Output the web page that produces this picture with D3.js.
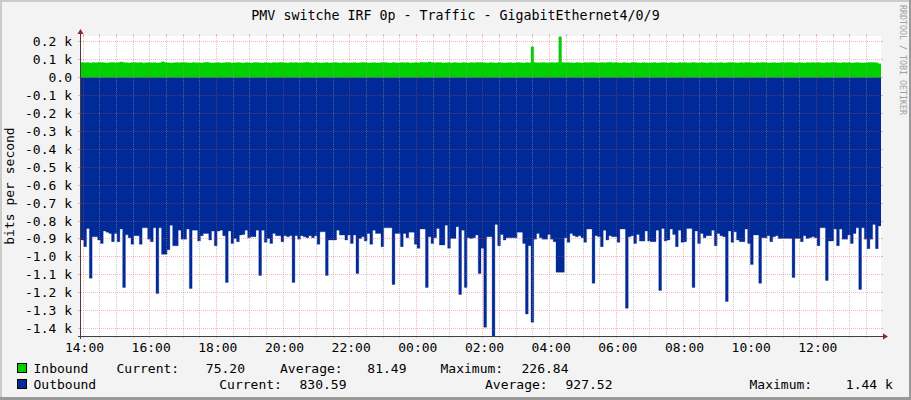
<!DOCTYPE html>
<html>
<head>
<meta charset="utf-8">
<script src="https://cdnjs.cloudflare.com/ajax/libs/d3/7.8.5/d3.min.js"></script>
<style>
    html, body { margin: 0; padding: 0; background: #f3f3f3; }
    svg { display: block; }
    text { font-family: "DejaVu Sans Mono", monospace; fill: #000; }
</style>
</head>
<body>
<svg id="chart" width="911" height="400"></svg>
<script>
// Data: one sample every 5 minutes, 288 samples over 24h
const title = 'PMV switche IRF 0p - Traffic - GigabitEthernet4/0/9';
const yTitle = 'bits per second';
const watermark = 'RRDTOOL / TOBI OETIKER';

const inbound = [
    82,81,83,80,82,81,84,82,81,80,82,83,81,82,86,82,81,80,83,82,81,82,80,81,
    83,81,82,80,81,87,82,81,80,81,82,81,83,82,81,80,82,81,81,80,82,84,81,80,
    81,82,80,81,83,82,80,81,82,81,80,82,81,80,83,82,81,80,82,81,80,82,81,83,
    82,81,80,82,81,83,80,81,82,84,81,80,82,81,80,81,82,80,81,83,81,80,82,81,
    80,81,82,80,81,83,82,80,81,82,80,81,82,83,81,80,82,81,80,82,81,83,80,81,
    82,81,84,82,83,86,82,81,83,82,80,81,82,80,83,81,80,82,81,80,82,81,82,83,
    82,81,80,82,81,80,82,81,80,81,82,80,81,82,81,80,82,81,170,82,81,81,82,81,
    81,82,81,82,226.84,83,81,82,81,80,82,81,80,82,81,83,82,81,80,82,81,82,84,81,
    82,81,80,82,81,80,82,83,81,80,82,81,80,81,82,80,81,82,81,80,82,81,80,82,
    81,82,80,81,83,81,80,82,81,80,82,81,80,81,82,80,81,83,82,81,80,82,81,82,
    82,81,80,82,81,83,82,80,81,82,80,81,82,81,83,82,81,80,82,81,80,82,81,82,
    81,82,81,80,82,81,83,82,81,80,82,81,82,80,81,82,81,80,81,82,83,82,81,75.2
];

const outbound = [
    -909,-946,-844,-1122,-891,-891,-909,-928,-859,-865,-872,-918,-872,-918,-848,-1174,-880,-896,-933,-885,-885,-933,-841,-841,
    -904,-918,-841,-1207,-841,-989,-989,-963,-826,-941,-941,-854,-904,-904,-848,-1180,-854,-854,-915,-885,-872,-872,-909,-859,
    -941,-859,-854,-885,-1146,-859,-928,-900,-918,-881,-878,-854,-896,-891,-891,-854,-1107,-854,-922,-900,-928,-872,-885,-885,
    -918,-885,-891,-885,-1146,-885,-904,-885,-891,-896,-885,-896,-885,-933,-863,-863,-1107,-909,-909,-909,-854,-881,-881,-909,
    -881,-928,-881,-1096,-900,-891,-915,-872,-933,-854,-872,-872,-946,-841,-841,-841,-1157,-872,-872,-946,-872,-896,-865,-865,
    -933,-955,-848,-848,-1174,-891,-928,-896,-844,-937,-937,-826,-955,-900,-900,-835,-1213,-854,-1174,-896,-900,-896,-881,-1096,
    -955,-1396,-891,-890,-1445,-822,-941,-878,-909,-896,-896,-896,-896,-865,-865,-928,-1322,-941,-1368,-904,-872,-896,-904,-904,
    -878,-904,-918,-1089,-1089,-1089,-896,-922,-872,-885,-891,-885,-896,-922,-848,-848,-1151,-885,-891,-946,-854,-909,-885,-891,
    -891,-922,-848,-848,-1290,-891,-885,-928,-878,-915,-915,-859,-915,-918,-918,-854,-1191,-844,-915,-909,-848,-878,-946,-854,
    -922,-918,-844,-844,-1174,-859,-928,-872,-896,-885,-885,-854,-941,-872,-885,-891,-1252,-859,-922,-863,-909,-918,-918,-848,
    -928,-1046,-881,-881,-1151,-896,-896,-885,-918,-891,-885,-900,-900,-900,-900,-900,-1118,-900,-900,-918,-885,-900,-896,-891,
    -896,-941,-841,-841,-1135,-915,-915,-848,-941,-848,-904,-904,-881,-928,-872,-841,-1185,-841,-904,-957,-904,-822,-957,-830.59
];

const yTicks = [200, 100, 0, -100, -200, -300, -400, -500, -600, -700, -800, -900, -1000, -1100, -1200, -1300, -1400];

const legendNames = ['Inbound', 'Outbound'];
const legendColors = ['#00cf00', '#002a97'];
const statCurrent = ['75.20', '830.59'];
const statAverage = ['81.49', '927.52'];
const statMaximum = ['226.84', '1.44 k'];

const chart = {
    svg: d3.select('#chart'),
    dims: { width: 911, height: 400, left: 81, right: 881, top: 36, bottom: 336 },
    x: null,
    y: null,

    init: function() {
        const d = chart.dims;
        const start = new Date(2024, 0, 1, 13, 56, 24);
        const end = d3.timeHour.offset(start, 24);

        chart.x = d3.scaleTime().domain([start, end]).range([d.left, d.right]);
        chart.y = d3.scaleLinear().domain([-1445, 230.7]).range([d.bottom, d.top]);

        // Samples, with an extra point so the last step reaches the edge
        const samples = inbound.map((v, i) => ({
            t: d3.timeMinute.offset(start, i * 5),
            inb: v,
            out: outbound[i]
        }));
        samples.push({ t: end, inb: inbound[inbound.length - 1], out: outbound[outbound.length - 1] });

        chart.drawFrame();
        chart.drawAreas(samples);
        chart.drawGrid(start, end);
        chart.drawAxes();
        chart.drawTexts();
        chart.drawLegend();
    },

    drawFrame: function() {
        const d = chart.dims;
        chart.svg.append('rect')
            .attr('width', d.width).attr('height', d.height).attr('fill', '#f3f3f3');
        // shaded border
        chart.svg.append('rect').attr('x', 0).attr('y', 0).attr('width', d.width).attr('height', 2).attr('fill', '#cbcbcb');
        chart.svg.append('rect').attr('x', 0).attr('y', 0).attr('width', 2).attr('height', d.height).attr('fill', '#cbcbcb');
        chart.svg.append('rect').attr('x', d.width - 2).attr('y', 0).attr('width', 2).attr('height', d.height).attr('fill', '#999999');
        chart.svg.append('rect').attr('x', 0).attr('y', d.height - 3).attr('width', d.width).attr('height', 3).attr('fill', '#999999');
        // canvas
        chart.svg.append('rect')
            .attr('x', d.left).attr('y', d.top)
            .attr('width', d.right - d.left).attr('height', d.bottom - d.top)
            .attr('fill', '#ffffff');

        chart.svg.append('clipPath').attr('id', 'plot-clip')
            .append('rect')
            .attr('x', d.left).attr('y', d.top)
            .attr('width', d.right - d.left).attr('height', d.bottom - d.top);
    },

    drawAreas: function(samples) {
        const outArea = d3.area()
            .curve(d3.curveStepAfter)
            .x(s => chart.x(s.t))
            .y0(chart.y(0))
            .y1(s => chart.y(s.out));

        const inArea = d3.area()
            .curve(d3.curveStepAfter)
            .x(s => chart.x(s.t))
            .y0(chart.y(0))
            .y1(s => chart.y(s.inb));

        const g = chart.svg.append('g').attr('clip-path', 'url(#plot-clip)');
        g.append('path').datum(samples).attr('d', outArea).attr('fill', legendColors[1])
            .attr('stroke', legendColors[1]).attr('stroke-width', 0.6).attr('stroke-opacity', 0.5);
        g.append('path').datum(samples).attr('d', inArea).attr('fill', legendColors[0])
            .attr('stroke', legendColors[0]).attr('stroke-width', 0.6).attr('stroke-opacity', 0.5);
    },

    drawGrid: function(start, end) {
        const d = chart.dims;
        const minor = 'rgba(150,150,150,0.5)';
        const major = 'rgba(225,70,70,0.38)';
        const g = chart.svg.append('g');

        // minor vertical lines every 30 minutes (skipping the 2-hour marks)
        const halfHours = d3.timeMinute.every(30).range(start, end)
            .filter(t => t.getMinutes() === 30 || t.getHours() % 2 === 1);
        halfHours.forEach(t => {
            const px = Math.floor(chart.x(t)) + 0.5;
            g.append('line').attr('x1', px).attr('x2', px).attr('y1', d.top).attr('y2', d.bottom)
                .attr('stroke', minor).attr('stroke-dasharray', '1,1');
            g.append('line').attr('x1', px).attr('x2', px).attr('y1', d.bottom).attr('y2', d.bottom + 2)
                .attr('stroke', minor);
            g.append('line').attr('x1', px).attr('x2', px).attr('y1', d.top - 2).attr('y2', d.top)
                .attr('stroke', minor);
        });

        // major vertical lines every 2 hours
        d3.timeHour.every(2).range(start, end).forEach(t => {
            const px = Math.floor(chart.x(t)) + 0.5;
            g.append('line').attr('x1', px).attr('x2', px).attr('y1', d.top).attr('y2', d.bottom)
                .attr('stroke', major).attr('stroke-dasharray', '1,1');
            g.append('line').attr('x1', px).attr('x2', px).attr('y1', d.bottom).attr('y2', d.bottom + 2)
                .attr('stroke', major);
            g.append('line').attr('x1', px).attr('x2', px).attr('y1', d.top - 2).attr('y2', d.top)
                .attr('stroke', major);
        });

        // horizontal lines on every tick
        yTicks.forEach(v => {
            const py = Math.round(chart.y(v)) + 0.5;
            g.append('line').attr('x1', d.left).attr('x2', d.right).attr('y1', py).attr('y2', py)
                .attr('stroke', major).attr('stroke-dasharray', '1,1');
            g.append('line').attr('x1', d.left - 3).attr('x2', d.left).attr('y1', py).attr('y2', py)
                .attr('stroke', major);
            g.append('line').attr('x1', d.right).attr('x2', d.right + 2).attr('y1', py).attr('y2', py)
                .attr('stroke', major);
        });
    },

    drawAxes: function() {
        const d = chart.dims;
        const axisColor = '#404040';
        const arrowColor = '#992222';

        chart.svg.append('line')
            .attr('x1', d.left - 0.5).attr('x2', d.left - 0.5)
            .attr('y1', d.bottom + 3).attr('y2', d.top - 3)
            .attr('stroke', axisColor);
        chart.svg.append('line')
            .attr('x1', d.left - 3).attr('x2', d.right + 2)
            .attr('y1', d.bottom + 0.5).attr('y2', d.bottom + 0.5)
            .attr('stroke', axisColor);

        chart.svg.append('path')
            .attr('d', `M${d.left - 3.5},${d.top - 2} L${d.left + 2.5},${d.top - 2} L${d.left - 0.5},${d.top - 7} Z`)
            .attr('fill', arrowColor);
        chart.svg.append('path')
            .attr('d', `M${d.right + 2},${d.bottom - 2.5} L${d.right + 2},${d.bottom + 3.5} L${d.right + 7},${d.bottom + 0.5} Z`)
            .attr('fill', arrowColor);

        // y labels
        const fmtY = v => v === 0 ? '0.0' : d3.format('.1f')(v / 1000).replace('−', '-') + ' k';
        chart.svg.append('g').selectAll('text')
            .data(yTicks)
            .enter()
            .append('text')
                .attr('x', 72)
                .attr('y', v => Math.round(chart.y(v)) + 5)
                .attr('text-anchor', 'end')
                .style('font-size', '13px')
                .text(fmtY);

        // x labels
        const [start, end] = chart.x.domain();
        chart.svg.append('g').selectAll('text')
            .data(d3.timeHour.every(2).range(start, end))
            .enter()
            .append('text')
                .attr('x', t => chart.x(t) + 1.5)
                .attr('y', 352)
                .attr('text-anchor', 'middle')
                .style('font-size', '13px')
                .text(d3.timeFormat('%H:%M'));
    },

    drawTexts: function() {
        const d = chart.dims;
        chart.svg.append('text')
            .attr('x', 455.5).attr('y', 19.5)
            .attr('text-anchor', 'middle')
            .style('font-size', '13.3px')
            .text(title);

        chart.svg.append('text')
            .attr('transform', `translate(14, ${(d.top + d.bottom) / 2}) rotate(-90)`)
            .attr('text-anchor', 'middle')
            .style('font-size', '13px')
            .text(yTitle);

        chart.svg.append('text')
            .attr('transform', 'translate(899.5, 60) rotate(90)')
            .attr('text-anchor', 'middle')
            .style('font-size', '8.3px')
            .style('fill', '#a0a0a0')
            .text(watermark);
    },

    drawLegend: function() {
        const rows = [
            { base: 373, box: 363.5, cur: 116.5, curV: 245, avg: 280, avgV: 406.5, max: 440.5, maxV: 568.5 },
            { base: 389, box: 379.5, cur: 219.3, curV: 346.5, avg: 485, avgV: 612.5, max: 749.5, maxV: 892.8 }
        ];
        const g = chart.svg.append('g').style('font-size', '13px');

        rows.forEach((r, i) => {
            g.append('rect')
                .attr('x', 17.5).attr('y', r.box)
                .attr('width', 9).attr('height', 9)
                .attr('fill', legendColors[i]).attr('stroke', '#000');
            g.append('text').attr('x', 33.5).attr('y', r.base).text(legendNames[i]);
            g.append('text').attr('x', r.cur).attr('y', r.base).text('Current:');
            g.append('text').attr('x', r.curV).attr('y', r.base).attr('text-anchor', 'end').text(statCurrent[i]);
            g.append('text').attr('x', r.avg).attr('y', r.base).text('Average:');
            g.append('text').attr('x', r.avgV).attr('y', r.base).attr('text-anchor', 'end').text(statAverage[i]);
            g.append('text').attr('x', r.max).attr('y', r.base).text('Maximum:');
            g.append('text').attr('x', r.maxV).attr('y', r.base).attr('text-anchor', 'end').text(statMaximum[i]);
        });
    }
};

document.addEventListener('DOMContentLoaded', chart.init);
</script>
</body>
</html>
